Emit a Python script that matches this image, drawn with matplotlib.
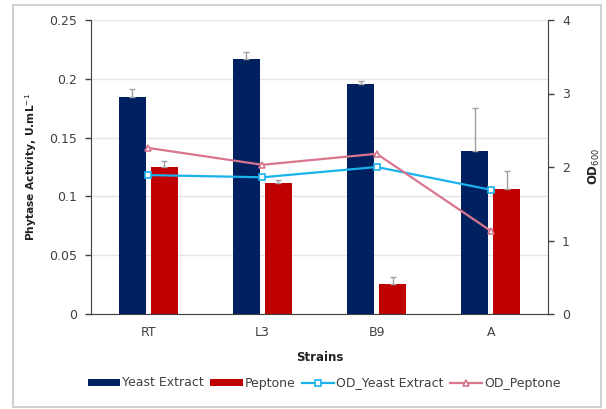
import matplotlib.pyplot as plt
import matplotlib.patches as mpatches
import numpy as np

plt.rcParams['font.family'] = ['DejaVu Sans']

# strains and measurements
strains = ['RT', 'L3', 'B9', 'A']
act_yeast = [0.1845, 0.217, 0.1955, 0.139]
err_yeast = [0.007, 0.006, 0.003, 0.036]
act_peptone = [0.125, 0.111, 0.0255, 0.106]
err_peptone = [0.005, 0.003, 0.006, 0.016]
od_yeast = [1.89, 1.86, 2.00, 1.69]
od_peptone = [2.26, 2.03, 2.18, 1.13]

navy = '#002060'
red = '#c00000'
blue = '#1ab2ec'
pink = '#d8768e'
txt = '#404040'

fig = plt.figure(figsize=(6.06, 4.09), dpi=100)
# outer chart border
fig.patches.append(mpatches.Rectangle((13/606, 0.005), 588/606, 1-5/409-0.005,
                                      transform=fig.transFigure, fill=False,
                                      edgecolor='#c8c8c8', lw=1.2))

ax = fig.add_axes([91/606, 95/409, 457/606, 294/409])
x = np.arange(len(strains))
w = 0.235
off = 0.14
ax.bar(x-off, act_yeast, w, color=navy, label='Yeast Extract', zorder=2)
ax.bar(x+off, act_peptone, w, color=red, label='Peptone', zorder=2)
ax.errorbar(x-off, act_yeast, yerr=[np.zeros(4), err_yeast], fmt='none',
            ecolor='#a0a0a0', elinewidth=1, capsize=2.5, capthick=1, zorder=3)
ax.errorbar(x+off, act_peptone, yerr=[np.zeros(4), err_peptone], fmt='none',
            ecolor='#a0a0a0', elinewidth=1, capsize=2.5, capthick=1, zorder=3)

ax.set_xlim(-0.5, 3.5)
ax.set_ylim(0, 0.25)
ax.set_yticks([0, 0.05, 0.1, 0.15, 0.2, 0.25])
ax.set_yticklabels(['0', '0.05', '0.1', '0.15', '0.2', '0.25'])
ax.set_xticks(x)
ax.set_xticklabels(strains)
ax.yaxis.grid(True, color='#e4e4e4', lw=1, zorder=0)
ax.set_axisbelow(True)
ax.tick_params(axis='x', length=0, pad=9, labelsize=9, labelcolor=txt)
ax.tick_params(axis='y', length=4, width=1, color=txt, labelsize=9, labelcolor=txt, pad=6)
for s in ['top', 'right']:
    ax.spines[s].set_visible(False)
ax.spines['left'].set_color(txt)
ax.spines['bottom'].set_color(txt)
ax.set_xlabel('Strains', fontsize=8.5, fontweight='bold', color='#222222', labelpad=8)
ax.set_ylabel('Phytase Activity, U.mL$^{-1}$', fontsize=7.7, fontweight='bold',
              color='#222222', labelpad=7)

ax2 = ax.twinx()
ax2.plot(x, od_yeast, color=blue, lw=1.6, marker='s', ms=5, mfc='white', mec=blue,
         mew=1.2, label='OD_Yeast Extract', zorder=4)
ax2.plot(x, od_peptone, color=pink, lw=1.6, marker='^', ms=5, mfc='white', mec=pink,
         mew=1.2, label='OD_Peptone', zorder=4)
ax2.set_ylim(0, 4)
ax2.set_yticks([0, 1, 2, 3, 4])
ax2.tick_params(axis='y', length=4, width=1, color=txt, labelsize=9, labelcolor=txt, pad=6)
for s in ['top', 'left', 'bottom']:
    ax2.spines[s].set_visible(False)
ax2.spines['right'].set_color(txt)
ax2.set_ylabel('OD$_{600}$', fontsize=8.5, fontweight='bold', color='#222222', labelpad=12)

h1, l1 = ax.get_legend_handles_labels()
h2, l2 = ax2.get_legend_handles_labels()
fig.legend(h1+h2, l1+l2, loc='center', bbox_to_anchor=(0.535, 1-383/409), ncol=4,
           frameon=False, fontsize=9, handlelength=2.6, handleheight=0.5,
           handletextpad=0.15, columnspacing=0.5, labelcolor=txt)

fig.savefig('out.png', dpi=100)
